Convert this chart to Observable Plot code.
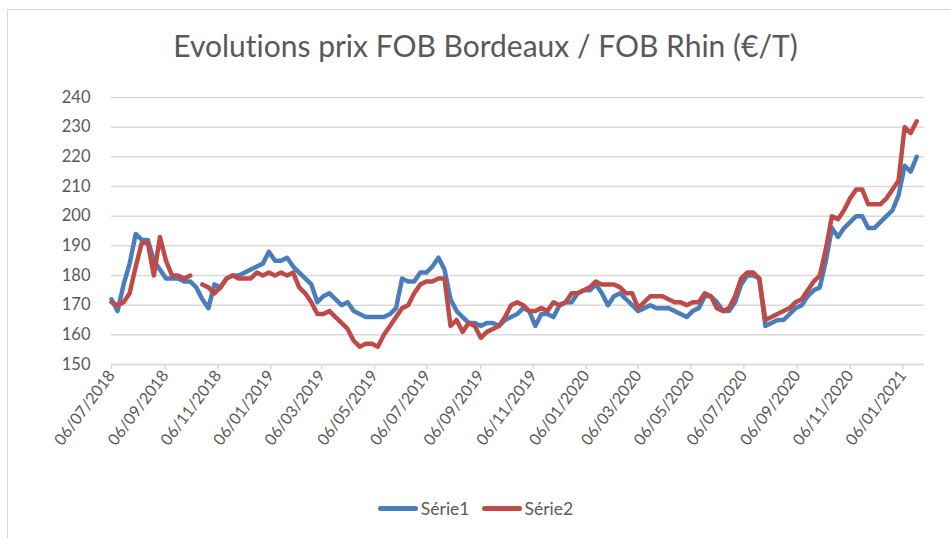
<!DOCTYPE html>
<html>
<head>
<meta charset="utf-8">
<script src="https://cdn.jsdelivr.net/npm/d3@7"></script>
<script src="https://cdn.jsdelivr.net/npm/@observablehq/plot@0.6"></script>
<style>
  html, body { margin: 0; padding: 0; background: #fff; }
  body { width: 951px; height: 538px; position: relative; overflow: hidden; font-family: Lato, "Open Sans", sans-serif; font-variant-ligatures: none; }
  #frame { position: absolute; left: 7px; top: 9px; width: 980px; height: 580px; border: 1px solid #d9d9d9; box-sizing: border-box; }
  #title { position: absolute; left: 10px; width: 951px; top: 30px; text-align: center; font-size: 30px; color: #595959; white-space: nowrap; line-height: 1; font-variant-ligatures: none; }
  #chart { position: absolute; left: 0; top: 70px; }
  #chart text { font-variant-ligatures: none; }
  #legend { position: absolute; left: 0; width: 951px; top: 498px; display: flex; justify-content: center; align-items: center; font-size: 17.5px; color: #595959; }
  #legend .item { display: flex; align-items: center; margin: 0 6px; }
  #legend .sw { display: inline-block; width: 40px; height: 5px; border-radius: 2.5px; margin-right: 3px; }
</style>
</head>
<body>
<div id="frame"></div>
<div id="title">Evolutions prix FOB Bordeaux / FOB Rhin (€/T)</div>
<div id="chart"></div>
<div id="legend"></div>
<script>
// ---- Data ----
const startDate = "2018-07-06";      // first weekly observation
const endDate = "2021-01-31";        // end of the date axis
const seriesNames = ["Série1", "Série2"];
const seriesColors = ["#4a7ebb", "#be4b48"];
const yTicks = [150, 160, 170, 180, 190, 200, 210, 220, 230, 240];
const tickLabels = ["06/07/2018","06/09/2018","06/11/2018","06/01/2019","06/03/2019","06/05/2019",
  "06/07/2019","06/09/2019","06/11/2019","06/01/2020","06/03/2020","06/05/2020","06/07/2020",
  "06/09/2020","06/11/2020","06/01/2021"];

const serie1 = [172,168,177,184,194,192,192,185,182,179,
  179,179,178,178,176,172,169,177,176,179,
  180,180,181,182,183,184,188,185,185,186,
  183,181,179,177,171,173,174,172,170,171,
  168,167,166,166,166,166,167,169,179,178,
  178,181,181,183,186,182,172,168,166,164,
  164,163,164,164,163,165,166,167,169,168,
  163,167,167,166,170,171,171,174,175,175,
  177,174,170,173,174,172,170,168,169,170,
  169,169,169,168,167,166,168,169,173,173,
  171,168,168,171,177,180,180,179,163,164,
  165,165,167,169,170,173,175,176,185,196,
  193,196,198,200,200,196,196,198,200,202,
  207,217,215,220];

const serie2 = [171,170,171,174,183,191,191,180,193,185,
  180,180,179,180,null,177,176,174,176,179,
  180,179,179,179,181,180,181,180,181,180,
  181,176,174,171,167,167,168,166,164,162,
  158,156,157,157,156,160,163,166,169,170,
  174,177,178,178,179,179,163,165,161,164,
  163,159,161,162,163,166,170,171,170,168,
  168,169,168,171,170,171,174,174,175,176,
  178,177,177,177,176,174,174,169,171,173,
  173,173,172,171,171,170,171,171,174,173,
  169,168,169,173,179,181,181,179,165,166,
  167,168,169,171,172,175,178,180,189,200,
  199,202,206,209,209,204,204,204,206,209,
  212,230,228,232];

// ---- Build table ----
const start = new Date(startDate + "T00:00:00Z");
const dates = serie1.map((_, i) => d3.utcDay.offset(start, 7 * i));
const data = [];
[serie1, serie2].forEach((s, k) => s.forEach((v, i) => data.push({date: dates[i], value: v == null ? NaN : v, serie: seriesNames[k]})));
const parseTick = d3.utcParse("%d/%m/%Y");
const tickDates = tickLabels.map(parseTick);
const fmt = d3.utcFormat("%d/%m/%Y");

const chart = Plot.plot({
  width: 951,
  height: 410,
  marginLeft: 111,
  marginRight: 27,
  marginTop: 27,
  marginBottom: 116,
  style: {fontFamily: "Lato, 'Open Sans', sans-serif", fontSize: "16px", color: "#595959", background: "transparent"},
  x: {type: "utc", domain: [start, new Date(endDate + "T00:00:00Z")], label: null},
  y: {domain: [150, 240], label: null},
  color: {domain: seriesNames, range: seriesColors},
  marks: [
    Plot.gridY(yTicks, {stroke: "#d9d9d9", strokeOpacity: 1, strokeWidth: 1.5}),
    Plot.axisY(yTicks, {tickSize: 0, tickPadding: 21, fontSize: 16.5, fill: "#595959", label: null}),
    Plot.axisX(tickDates, {tickSize: 5, tickPadding: 3, stroke: "#d9d9d9", strokeOpacity: 1, strokeWidth: 1.5, tickRotate: -53, tickFormat: fmt, fontSize: 16, fill: "#595959", label: null}),
    Plot.ruleY([150], {stroke: "#d9d9d9", strokeWidth: 1.5}),
    Plot.line(data, {x: "date", y: "value", z: "serie", stroke: "serie", strokeWidth: 4.5, strokeLinejoin: "round", strokeLinecap: "round"})
  ]
});
document.getElementById("chart").appendChild(chart);

// ---- Legend ----
const legend = document.getElementById("legend");
seriesNames.forEach((name, k) => {
  const item = document.createElement("span");
  item.className = "item";
  const sw = document.createElement("span");
  sw.className = "sw";
  sw.style.background = seriesColors[k];
  const label = document.createElement("span");
  label.textContent = name;
  item.appendChild(sw);
  item.appendChild(label);
  legend.appendChild(item);
});
</script>
</body>
</html>
